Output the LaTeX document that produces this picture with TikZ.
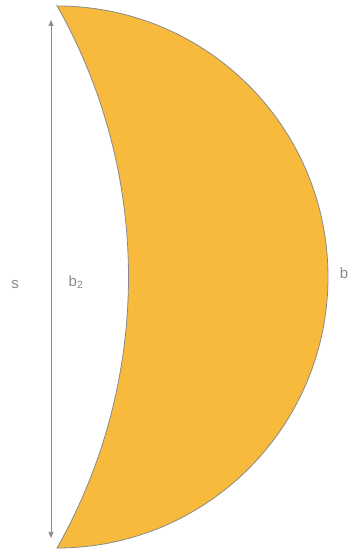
\documentclass[tikz,border=0pt]{standalone}
\usepackage{fontspec}
\setmainfont{Liberation Sans}
\usetikzlibrary{arrows.meta}
\definecolor{lunefill}{HTML}{F8BA3D}
\definecolor{lunegray}{HTML}{8A8A8A}
\tikzset{
  lune/.style={fill=lunefill, draw=lunegray, line width=0.8pt},
  dimline/.style={draw=lunegray, line width=0.7pt, {Triangle[length=6pt,width=5pt]}-{Triangle[length=6pt,width=5pt]}},
  dimlabel/.style={text=lunegray, font=\fontsize{15}{18}\selectfont, inner sep=0pt}
}

\begin{document}
\begin{tikzpicture}[x=1pt,y=1pt]
  \useasboundingbox (0,0) rectangle (352,554);
  % the crescent: outer half circle, inner flatter arc
  \coordinate (tiptop) at (57,548);
  \coordinate (tipbot) at (57,6);
  \path[lune] (tiptop) arc[start angle=90, end angle=-90, radius=271]
    arc[start angle=-29.55, end angle=29.55, radius=549.8] -- cycle;
  % height
  \coordinate (stop) at (51,534);
  \coordinate (sbot) at (51,16);
  \draw[dimline] (sbot) -- (stop);
  \node[dimlabel] (slabel) at (15,269) {s};
  \node[dimlabel] (b2label) at (76,272) {b\textsubscript{2}};
  \node[dimlabel] (blabel) at (344,281) {b};
\end{tikzpicture}
\end{document}
